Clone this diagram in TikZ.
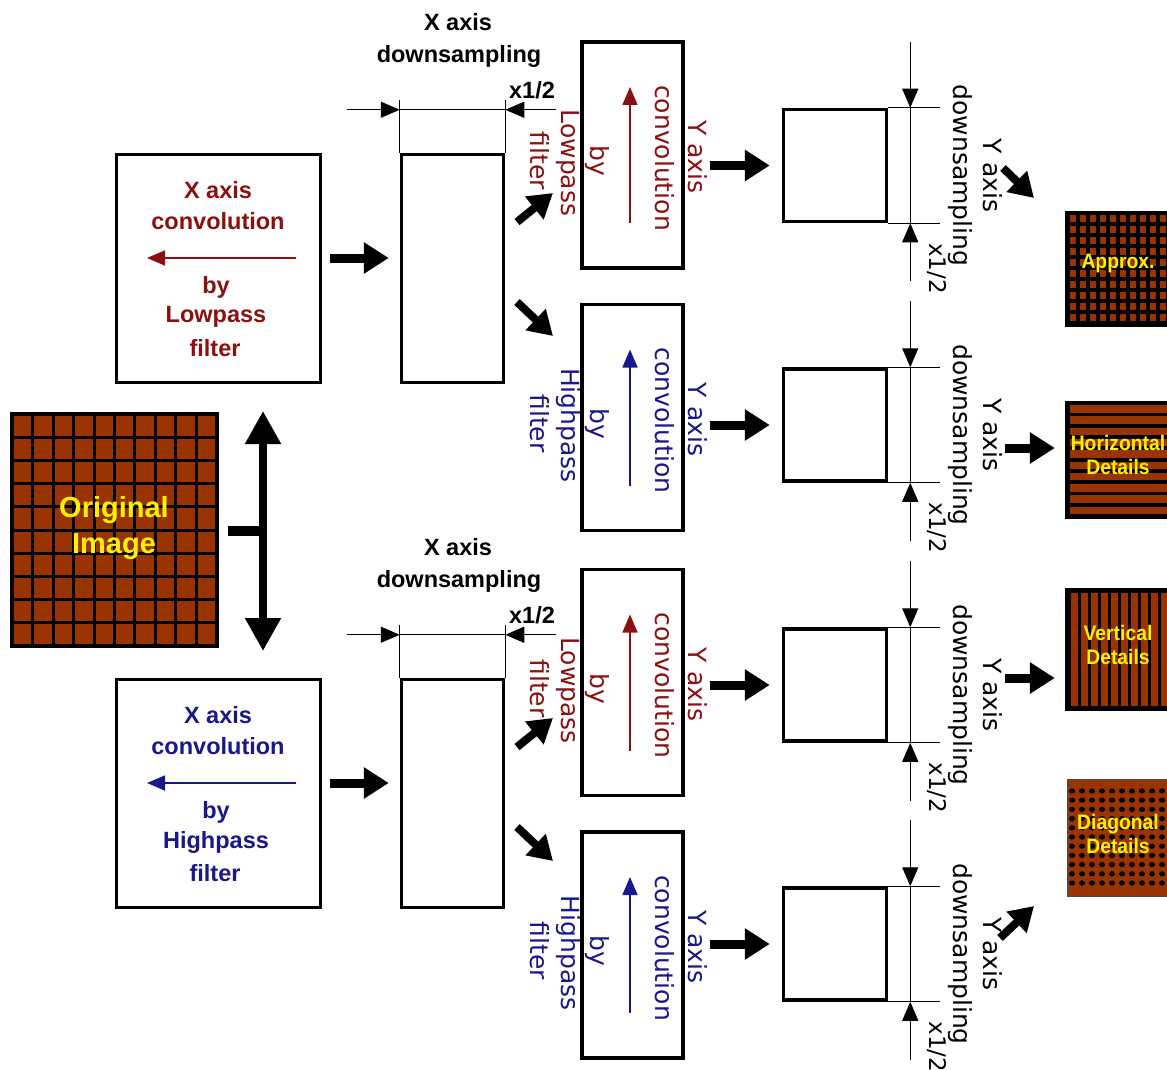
\documentclass[tikz,border=0pt]{standalone}
\usepackage{fontspec}
\setmainfont{Liberation Sans}
\newfontfamily\dvfont{DejaVu Sans}
\newfontfamily\narrowfont[FakeStretch=0.92]{Liberation Sans}
\usetikzlibrary{arrows.meta,calc}
\definecolor{brick}{RGB}{153,51,0}
\definecolor{dred}{RGB}{140,16,16}
\definecolor{dblue}{RGB}{24,24,140}
\begin{document}
\begin{tikzpicture}[x=1pt,y=-1pt,
  box/.style={draw=black, line width=3.5pt, fill=white, inner sep=0pt, outer sep=1.75pt},
  bigarrow/.style={line width=9pt, -{Triangle[length=25pt,width=30pt]}},
  diagarrow/.style={line width=8pt, -{Triangle[length=24pt,width=28pt]}},
  dblarrow/.style={line width=8pt, {Triangle[length=33pt,width=34pt]}-{Triangle[length=33pt,width=34pt]}},
  dimline/.style={line width=1.2pt},
  dimarrow/.style={line width=1.2pt, -{Triangle[length=19pt,width=16pt]}},
  thinarrow/.style={line width=1.6pt, -{Triangle[length=18pt,width=15pt]}},
  rot/.style={rotate=-90, inner sep=0pt, font=\dvfont\fontsize{25}{30}\selectfont},
  lab/.style={inner sep=0pt, font=\bfseries\fontsize{23.5}{30}\selectfont},
  outtxt/.style={inner sep=0pt, align=center, text=yellow, font=\narrowfont\bfseries\fontsize{21}{23.5}\selectfont},
  ]
\useasboundingbox (0,0) rectangle (1167,1070);
\clip (0,0) rectangle (1167,1070);

% ---------- original image ----------
\fill[black] (10,412) rectangle (219,648);
\foreach \i in {0,...,9}{\foreach \j in {0,...,9}{
  \fill[brick] (14+\i*20.4, 416+\j*23.1) rectangle ++(17.4,20.1);}}
\node[inner sep=0pt, minimum width=209pt, minimum height=236pt] (orig) at (114.5,530) {};
\node[inner sep=0pt, align=center, text=yellow, font=\bfseries\fontsize{29}{36}\selectfont] (origtxt) at (114,528) {Original\\Image};

% split arrow
\coordinate (split) at (263,531);
\coordinate (up) at (263,411);
\coordinate (down) at (263,651);
\draw[line width=10pt] ([xshift=9pt]orig.east |- split) -- ([xshift=4pt]split);
\draw[dblarrow] (up) -- (down);

% ---------- X axis stages ----------
\foreach \n/\d/\dy/\col/\filt in {xL/dL/0/dred/Lowpass, xH/dH/525/dblue/Highpass}{
  \node[box, minimum width=204pt, minimum height=228pt] (\n) at (218.5,268.5+\dy) {};
  \node[lab, text=\col] at (218,190+\dy) {X axis};
  \node[lab, text=\col] at (218,221+\dy) {convolution};
  \draw[thinarrow, \col] (296,258+\dy) -- (147,258+\dy);
  \node[lab, text=\col] at (216,287+\dy) {by};
  \node[lab, text=\col] at (216,317+\dy) {\filt};
  \node[lab, text=\col] at (215,348+\dy) {filter};
  \node[box, minimum width=102pt, minimum height=228pt] (\d) at (452.5,268.5+\dy) {};
  \draw[bigarrow] ([xshift=8pt,yshift=10.5pt]\n.east) -- ([xshift=-11pt,yshift=10.5pt]\d.west);
  % dimension
  \draw[dimline] (\d.north west) -- ++(0,-53);
  \draw[dimline] (\d.north east) -- ++(0,-53);
  \draw[dimarrow] ($(\d.north west)+(-53,-43)$) -- ($(\d.north west)+(0,-43)$);
  \draw[dimline] ($(\d.north west)+(0,-43)$) -- ($(\d.north east)+(0,-43)$);
  \draw[dimarrow] ($(\d.north east)+(51,-43)$) -- ($(\d.north east)+(0,-43)$);
  \node[lab] at (458,22+\dy) {X axis};
  \node[lab] at (459,56+\dy) {downsampling};
  \node[lab] at (532,90+\dy) {x1/2};
}

% ---------- Y axis stages ----------
\foreach \n/\s/\cy/\sy/\col/\filt in {yA/sA/155/165.5/dred/Lowpass, yB/sB/417.5/425/dblue/Highpass, yC/sC/682.5/685/dred/Lowpass, yD/sD/945/944/dblue/Highpass}{
  \node[box, minimum width=101pt, minimum height=226pt] (\n) at (632.5,\cy) {};
  \node[rot, text=\col] at (698,\cy+2) {Y axis};
  \node[rot, text=\col] at (665,\cy+3) {convolution};
  \draw[thinarrow, \col] (630,\cy+68) -- (630,\cy-68);
  \node[rot, text=\col] at (597,\cy+6) {by};
  \node[rot, text=\col] at (568,\cy+8) {\filt};
  \node[rot, text=\col] at (540,\cy+6) {filter};
  \node[box, minimum width=103pt, minimum height=112pt] (\s) at (835,\sy) {};
  \draw[bigarrow] ($(\n.east |- \s.west)+(25,0)$) -- ($(\s.west)+(-12,0)$);
  % dimension
  \draw[dimline] (\s.north east) -- ++(52,0);
  \draw[dimline] (\s.south east) -- ++(52,0);
  \draw[dimarrow] ($(\s.north east)+(22,-66)$) -- ($(\s.north east)+(22,0)$);
  \draw[dimline] ($(\s.north east)+(22,0)$) -- ($(\s.south east)+(22,0)$);
  \draw[dimarrow] ($(\s.south east)+(22,58)$) -- ($(\s.south east)+(22,0)$);
  \node[rot] at (993,\sy+10) {Y axis};
  \node[rot] at (960,\sy+10) {downsampling};
  \node[rot, font=\dvfont\fontsize{23}{26}\selectfont] at (937,\sy+103) {x1/2};
}

% diagonal arrows from X-downsampled boxes to Y convolution boxes
\foreach \d/\dy in {dL/0, dH/525}{
  \draw[diagarrow] (517,222+\dy) -- (553,193+\dy);
  \draw[diagarrow] (517,302+\dy) -- (553,336+\dy);
}

% ---------- outputs ----------
% Approx.
\fill[black] (1065,211) rectangle (1172,327);
\foreach \i in {0,...,9}{\foreach \j in {0,...,9}{
  \fill[brick] (1070+\i*10, 215+\j*11) rectangle ++(6,7);}}
\node[inner sep=0pt, minimum width=107pt, minimum height=116pt] (oA) at (1118.5,269) {};
\node[outtxt] at (1118,263) {Approx.};
% Horizontal
\fill[black] (1065,401) rectangle (1172,519);
\foreach \k in {0,...,9}{\fill[brick] (1070,405+\k*11.3) rectangle ++(102,7.5);}
\node[inner sep=0pt, minimum width=107pt, minimum height=118pt] (oB) at (1118.5,460) {};
\node[outtxt] at (1118,455) {Horizontal\\Details};
% Vertical
\fill[black] (1065,588) rectangle (1172,711);
\foreach \k in {0,...,9}{\fill[brick] (1071+\k*10,593) rectangle ++(6.5,113);}
\node[inner sep=0pt, minimum width=107pt, minimum height=123pt] (oC) at (1118.5,649.5) {};
\node[outtxt] at (1118,645) {Vertical\\Details};
% Diagonal
\fill[brick] (1067,779) rectangle (1172,896);
\draw[line width=1pt, black!70] (1067,779) rectangle (1172,896);
\foreach \i in {0,...,9}{\foreach \j in {0,...,10}{
  \fill[black] (1072+\i*10, 791+\j*9.2) ellipse (3pt and 2.6pt);}}
\node[inner sep=0pt, minimum width=105pt, minimum height=117pt] (oD) at (1119.5,837.5) {};
\node[outtxt] at (1118,834) {Diagonal\\Details};

% arrows to outputs
\draw[diagarrow] (1003,168) -- (1034,198);
\draw[bigarrow] ($(oB.west)+(-60,-12)$) -- ($(oB.west)+(-10,-12)$);
\draw[bigarrow] ($(oC.west)+(-60,28.5)$) -- ($(oC.west)+(-10,28.5)$);
\draw[diagarrow] (1000,938) -- (1034,906);
\end{tikzpicture}
\end{document}
